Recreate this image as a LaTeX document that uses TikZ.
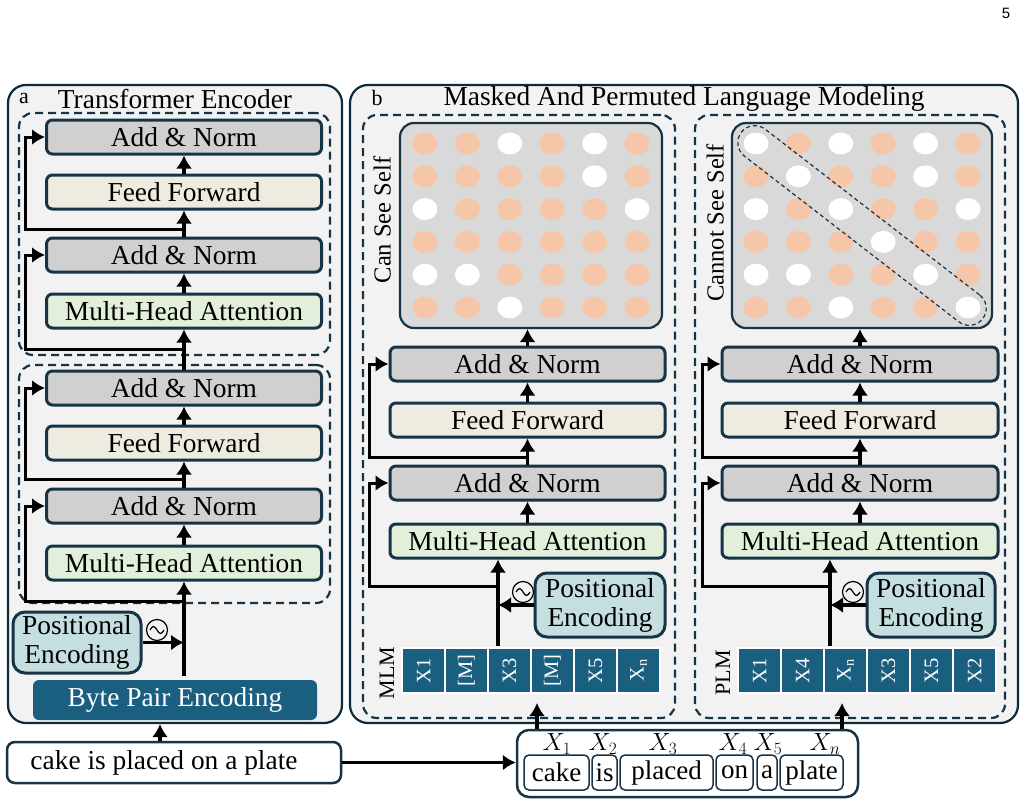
\documentclass[tikz,border=0pt]{standalone}
\usepackage{fontspec}
\setmainfont{Liberation Serif}
\setsansfont{Liberation Sans}
\usetikzlibrary{arrows.meta,calc,positioning}
\definecolor{panelc}{HTML}{0E2B3D}
\definecolor{panelbg}{HTML}{F2F2F2}
\definecolor{edgec}{HTML}{173447}
\definecolor{anfill}{HTML}{D0D0D0}
\definecolor{fffill}{HTML}{EEECE1}
\definecolor{mhafill}{HTML}{E2EFDA}
\definecolor{pefill}{HTML}{C5DFE0}
\definecolor{tokfill}{HTML}{1A5E80}
\definecolor{dotc}{HTML}{F6C6A9}
\definecolor{matfill}{HTML}{D9D9D9}
\newcommand\bigfs{\fontsize{27.4}{29}\selectfont}
\newcommand\labfs{\fontsize{22}{24}\selectfont}
\newcommand\sidefs{\fontsize{24.5}{26}\selectfont}
\newcommand\posmark[1]{%
  \draw[line width=1.2pt] (#1) circle[radius=10.5pt];
  \draw[line width=1.2pt] ($(#1)+(-7,0)$) sin ($(#1)+(-3.5,-3.5)$) cos ($(#1)+(0,0)$) sin ($(#1)+(3.5,3.5)$) cos ($(#1)+(7,0)$);}
\begin{document}
\begin{tikzpicture}[x=1pt,y=-1pt]
\tikzset{
  panel/.style={draw=panelc, fill=panelbg, line width=2.2pt, rounded corners=18pt, inner sep=0pt},
  dbox/.style={draw=edgec, dash pattern=on 8pt off 5pt, line width=2.2pt, rounded corners=14pt, inner sep=0pt},
  blk/.style={draw=edgec, line width=3pt, rounded corners=6pt, minimum height=34pt, inner sep=0pt, font=\bigfs},
  addn/.style={blk, fill=anfill},
  ffwd/.style={blk, fill=fffill},
  mhead/.style={blk, fill=mhafill},
  posenc/.style={blk, fill=pefill, rounded corners=12pt, align=center},
  bpe/.style={fill=tokfill, rounded corners=6pt, text=white, font=\bigfs, inner sep=0pt},
  inbox/.style={draw=edgec, fill=white, line width=2.5pt, rounded corners=8pt, inner sep=0pt, font=\bigfs},
  word/.style={draw=edgec, line width=1.5pt, rounded corners=5pt, minimum height=35pt, inner sep=0pt, font=\fontsize{27}{29}\selectfont},
  xlab/.style={inner sep=0pt, font=\fontsize{25}{27}\selectfont},
  matbox/.style={draw=edgec, fill=matfill, line width=2.2pt, rounded corners=14pt, inner sep=0pt},
  diag/.style={draw=edgec, dash pattern=on 4pt off 3pt, line width=1.2pt, rounded corners=17pt, inner sep=0pt},
  tokcell/.style={fill=tokfill, draw=white, line width=1.5pt, minimum width=45pt, minimum height=43pt, inner sep=0pt, text=white, rotate=90, font=\fontsize{20.5}{22}\selectfont},
  arr/.style={-{Latex[length=13pt,width=16pt]}, line width=3.5pt},
  res/.style={-{Latex[length=13pt,width=16pt]}, line width=3pt}}
\path[fill=white] (0,0) rectangle (1030,803);
\useasboundingbox (0,0) rectangle (1030,803);
\node[font=\sffamily\fontsize{15}{17}\selectfont] (pg) at (1006,13) {5};

\node[panel, minimum width=334pt, minimum height=638pt] (pa) at (175,404) {};
\node[font=\labfs] (la) at (24,98) {a};
\node[font=\bigfs] (ta) at (175,99) {Transformer Encoder};
\node[dbox, minimum width=311pt, minimum height=242pt] (da2) at (174.5,234) {};
\node[dbox, minimum width=311pt, minimum height=238pt] (da1) at (174.5,484) {};
\node[addn, minimum width=275pt] (an22) at (184,137) {Add \& Norm};
\node[ffwd, minimum width=275pt] (ff2) at (184,192) {Feed Forward};
\node[addn, minimum width=275pt] (an21) at (184,255) {Add \& Norm};
\node[mhead, minimum width=275pt] (mh2) at (184,311) {Multi-Head Attention};
\node[addn, minimum width=275pt] (an12) at (184,388) {Add \& Norm};
\node[ffwd, minimum width=275pt] (ff1) at (184,443) {Feed Forward};
\node[addn, minimum width=275pt] (an11) at (184,506) {Add \& Norm};
\node[mhead, minimum width=275pt] (mh1) at (184,563) {Multi-Head Attention};
\node[posenc, minimum width=128pt, minimum height=61pt] (pea) at (77,642.5) {Positional\\Encoding};
\node[bpe, minimum width=284pt, minimum height=40pt] (bpe) at (175,700) {Byte Pair Encoding};
\node[inbox, minimum width=334pt, minimum height=41pt] (inp) at (174,762.5) {cake is placed on a plate\hspace*{20pt}};
\coordinate (ain) at (184,676);
\draw[arr] (ain) to (mh1.south);
\draw[arr] (mh1) to (an11);
\draw[arr] (an11) to (ff1);
\draw[arr] (ff1) to (an12);
\draw[arr] (an12) to (mh2);
\draw[arr] (mh2) to (an21);
\draw[arr] (an21) to (ff2);
\draw[arr] (ff2) to (an22);
\draw[res] ($(mh1.south)+(0,20)$) -| ($(an11.west)+(-20,0)$) to (an11.west);
\draw[res] ($(an11.north)+(0,-8)$) -| ($(an12.west)+(-20,0)$) to (an12.west);
\draw[res] ($(mh2.south)+(0,20)$) -| ($(an21.west)+(-20,0)$) to (an21.west);
\draw[res] ($(an21.north)+(0,-7)$) -| ($(an22.west)+(-20,0)$) to (an22.west);
\draw[arr] (pea.east) to (pea.east -| ain);
\posmark{157,630}
\draw[arr] ($(inp.north)+(-14,0)$) to ($(pa.south)+(-15,0)$);

\node[panel, minimum width=668pt, minimum height=638pt] (pb) at (684,404) {};
\node[font=\labfs] (lb) at (377,98) {b};
\node[font=\bigfs] (tb) at (684,99) {Masked And Permuted Language Modeling};
\node[dbox, minimum width=312pt, minimum height=603pt] (dl) at (519,416.5) {};
\node[dbox, minimum width=310pt, minimum height=603pt] (dr) at (850,416.5) {};
\node[matbox, minimum width=262pt, minimum height=205pt] (matl) at (531,225.5) {};
\node[matbox, minimum width=260pt, minimum height=205pt] (matr) at (862,225.5) {};
\foreach \c in {1,...,6}
  \foreach \r in {1,...,6}
  {\fill[dotc] ($(matl)+({(\c-3.5)*42.4},{(\r-3.5)*32.8})$) ellipse[x radius=12.5pt, y radius=11pt];
   \fill[dotc] ($(matr)+({(\c-3.5)*42.4},{(\r-3.5)*32.8})$) ellipse[x radius=12.5pt, y radius=11pt];}
\foreach \c/\r in {3/1,5/1,5/2,1/3,6/3,1/5,2/5,3/6}
  \fill[white] ($(matl)+({(\c-3.5)*42.4},{(\r-3.5)*32.8})$) ellipse[x radius=12.5pt, y radius=11pt];
\foreach \c/\r in {1/1,3/1,5/1,2/2,5/2,1/3,3/3,6/3,4/4,1/5,2/5,5/5,3/6,6/6}
  \fill[white] ($(matr)+({(\c-3.5)*42.4},{(\r-3.5)*32.8})$) ellipse[x radius=12.5pt, y radius=11pt];
\node[diag, rotate=-37.7, minimum width=305pt, minimum height=34pt] (band) at (862,225.5) {};
\node[rotate=90, font=\sidefs] (cs) at (382,220) {Can See Self};
\node[rotate=90, font=\sidefs] (cns) at (715,223) {Cannot See Self};

\node[addn, minimum width=275pt] (anl2) at (527.5,364) {Add \& Norm};
\node[ffwd, minimum width=275pt] (ffl) at (527.5,420) {Feed Forward};
\node[addn, minimum width=275pt] (anl1) at (527.5,483) {Add \& Norm};
\node[mhead, minimum width=275pt] (mhl) at (527.5,541) {Multi-Head Attention};
\node[posenc, minimum width=130pt, minimum height=64pt] (pel) at (600,605) {Positional\\Encoding};
\node[tokcell] (ml1) at (423.5,670.5) {X1};
\node[tokcell] (ml2) at (466.5,670.5) {[M]};
\node[tokcell] (ml3) at (509.5,670.5) {X3};
\node[tokcell] (ml4) at (552.5,670.5) {[M]};
\node[tokcell] (ml5) at (595.5,670.5) {X5};
\node[tokcell] (ml6) at (638.5,670.5) {X\textsubscript{n}};
\node[rotate=90, font=\labfs] (mlm) at (387,673) {MLM};
\coordinate (lin) at (498,646);
\draw[arr] (lin) to (lin |- mhl.south);
\draw[arr] (mhl) to (anl1);
\draw[arr] (anl1) to (ffl);
\draw[arr] (ffl) to (anl2);
\draw[arr] (anl2.north) to (anl2.north |- matl.south);
\draw[arr] (pel.west) to (pel.west -| lin);
\draw[res] ($(mhl.south -| lin)+(0,27)$) -| ($(anl1.west)+(-19,0)$) to (anl1.west);
\draw[res] ($(anl1.north)+(0,-7)$) -| ($(anl2.west)+(-19,0)$) to (anl2.west);
\posmark{523,592}

\node[addn, minimum width=276pt] (anr2) at (860,364) {Add \& Norm};
\node[ffwd, minimum width=276pt] (ffr) at (860,420) {Feed Forward};
\node[addn, minimum width=276pt] (anr1) at (860,483) {Add \& Norm};
\node[mhead, minimum width=276pt] (mhr) at (860,541) {Multi-Head Attention};
\node[posenc, minimum width=128pt, minimum height=64pt] (per) at (931,605) {Positional\\Encoding};
\node[tokcell] (pl1) at (759.5,670.5) {X1};
\node[tokcell] (pl2) at (802.5,670.5) {X4};
\node[tokcell] (pl3) at (845.5,670.5) {X\textsubscript{n}};
\node[tokcell] (pl4) at (888.5,670.5) {X3};
\node[tokcell] (pl5) at (931.5,670.5) {X5};
\node[tokcell] (pl6) at (974.5,670.5) {X2};
\node[rotate=90, font=\labfs] (plm) at (723,673) {PLM};
\coordinate (rin) at (830,646);
\draw[arr] (rin) to (rin |- mhr.south);
\draw[arr] (mhr) to (anr1);
\draw[arr] (anr1) to (ffr);
\draw[arr] (ffr) to (anr2);
\draw[arr] (anr2.north) to (anr2.north |- matr.south);
\draw[arr] (per.west) to (per.west -| rin);
\draw[res] ($(mhr.south -| rin)+(0,27)$) -| ($(anr1.west)+(-18,0)$) to (anr1.west);
\draw[res] ($(anr1.north)+(0,-7)$) -| ($(anr2.west)+(-18,0)$) to (anr2.west);
\posmark{853,592}

\node[inbox, rounded corners=12pt, minimum width=341pt, minimum height=67pt] (tok) at (687.5,763.5) {};
\node[word, minimum width=65pt] (wcake) at (556.5,772.5) {cake};
\node[word, minimum width=25pt] (wis) at (604.5,772.5) {is};
\node[word, minimum width=93pt] (wplaced) at (666.5,772.5) {placed};
\node[word, minimum width=37pt] (won) at (734.5,772.5) {on};
\node[word, minimum width=20pt] (wa) at (767,772.5) {a};
\node[word, minimum width=63pt] (wplate) at (811.5,772.5) {plate};
\node[xlab] (x1) at (557,744) {$X_1$};
\node[xlab] (x2) at (603,744) {$X_2$};
\node[xlab] (x3) at (663,744) {$X_3$};
\node[xlab] (x4) at (733,744) {$X_4$};
\node[xlab] (x5) at (768,744) {$X_5$};
\node[xlab] (xn) at (825,744) {$X_n$};
\coordinate (mlmin) at (537,703);
\coordinate (plmin) at (842,703);
\draw[arr] (tok.north -| mlmin) to (mlmin);
\draw[arr] (tok.north -| plmin) to (plmin);
\draw[arr] (inp.east) to (inp.east -| tok.west);
\end{tikzpicture}
\end{document}
